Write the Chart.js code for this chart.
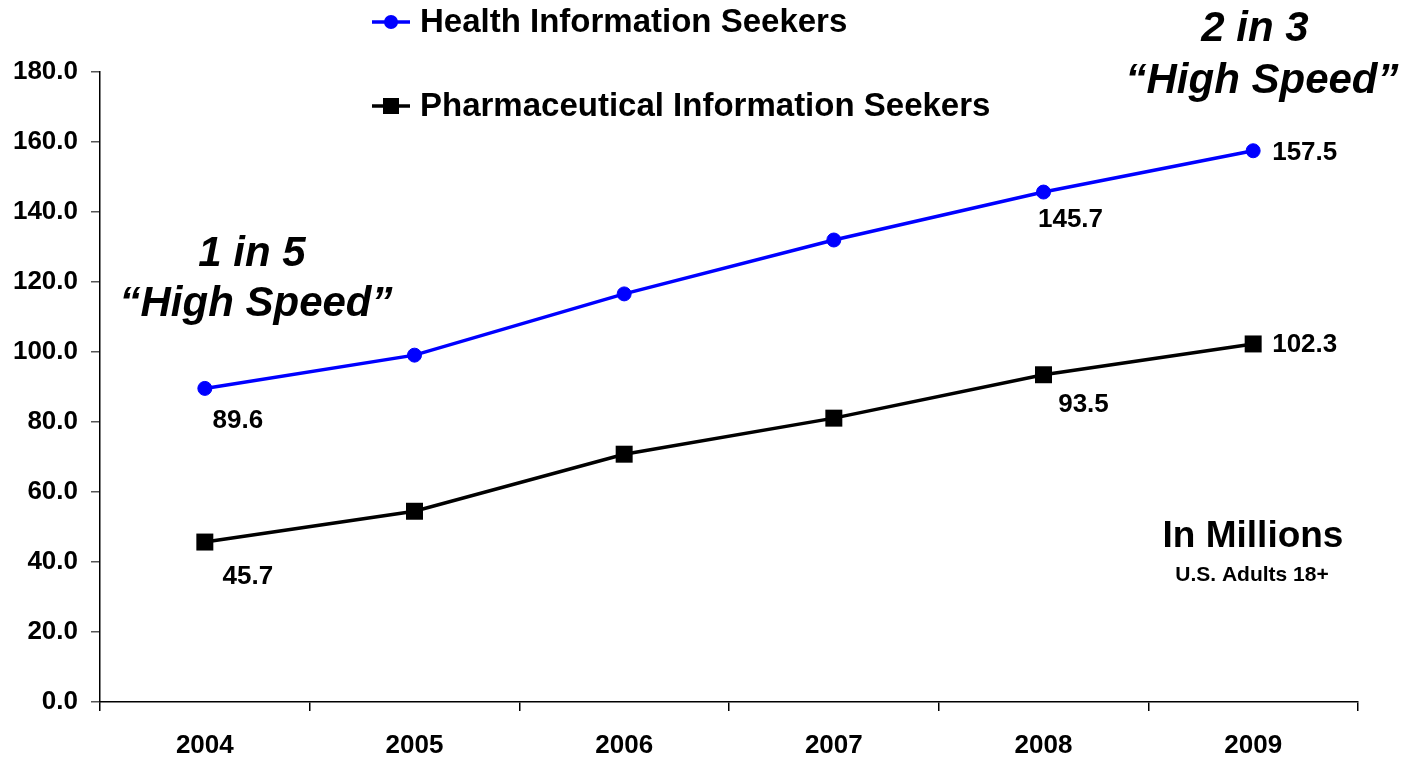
<!DOCTYPE html>
<html>
<head>
<meta charset="utf-8">
<script src="https://cdn.jsdelivr.net/npm/chart.js@4.4.1/dist/chart.umd.min.js"></script>
<style>
  html, body { margin: 0; padding: 0; background: #fff; }
  #wrap { position: relative; width: 1406px; height: 758px; }
</style>
</head>
<body>
<div id="wrap"><canvas id="c" width="1406" height="758"></canvas></div>
<script>
const years = ['2004', '2005', '2006', '2007', '2008', '2009'];
const healthSeekers = [89.6, 99.1, 116.6, 132.0, 145.7, 157.5];
const pharmaSeekers = [45.7, 54.5, 70.8, 81.1, 93.5, 102.3];
const seriesNames = ['Health Information Seekers', 'Pharmaceutical Information Seekers'];
const yTicks = { min: 0, max: 180, step: 20 };
// indices of points that carry a value label
const labelledPoints = [0, 4, 5];

const FONT = '"Liberation Sans", Arial, sans-serif';

// label offsets (px) relative to the point, per dataset, per labelled index
const labelOffsets = [
  { 0: [33, 32, 'center'], 4: [27, 28, 'center'], 5: [19, 2, 'left'] },
  { 0: [43, 35, 'center'], 4: [40, 30, 'center'], 5: [19, 1, 'left'] }
];

const overlayPlugin = {
  id: 'overlay',
  afterDatasetsDraw(chart) {
    const ctx = chart.ctx;
    ctx.save();
    ctx.fillStyle = '#000';
    ctx.font = 'bold 26px ' + FONT;
    ctx.textBaseline = 'middle';
    chart.data.datasets.forEach((ds, di) => {
      const meta = chart.getDatasetMeta(di);
      labelledPoints.forEach(i => {
        const p = meta.data[i];
        const off = labelOffsets[di][i];
        ctx.textAlign = off[2];
        ctx.fillText(ds.data[i].toFixed(1), p.x + off[0], p.y + off[1]);
      });
    });
    ctx.restore();
  },
  afterDraw(chart) {
    const ctx = chart.ctx;
    ctx.save();
    // legend
    const rows = [22, 106];
    chart.data.datasets.forEach((ds, di) => {
      const y = rows[di];
      ctx.strokeStyle = ds.borderColor;
      ctx.lineWidth = 3.5;
      ctx.beginPath();
      ctx.moveTo(372, y);
      ctx.lineTo(410, y);
      ctx.stroke();
      ctx.fillStyle = ds.pointBackgroundColor;
      if (ds.pointStyle === 'circle') {
        ctx.beginPath();
        ctx.arc(391, y, 7, 0, Math.PI * 2);
        ctx.fill();
      } else {
        ctx.fillRect(383, y - 8, 16, 16);
      }
      ctx.fillStyle = '#000';
      ctx.font = 'bold 33px ' + FONT;
      ctx.textAlign = 'left';
      ctx.textBaseline = 'middle';
      ctx.fillText(ds.label, 420, y + 1);
    });
    // annotations
    ctx.fillStyle = '#000';
    ctx.textAlign = 'center';
    ctx.textBaseline = 'middle';
    ctx.font = 'italic bold 42px ' + FONT;
    ctx.fillText('1 in 5', 252, 254);
    ctx.fillText('\u201CHigh Speed\u201D', 256, 304);
    ctx.fillText('2 in 3', 1255, 29);
    ctx.fillText('\u201CHigh Speed\u201D', 1262, 81);
    ctx.font = 'bold 37px ' + FONT;
    ctx.fillText('In Millions', 1253, 537);
    ctx.font = 'bold 21px ' + FONT;
    ctx.fillText('U.S. Adults 18+', 1252, 575);
    ctx.restore();
  }
};

new Chart(document.getElementById('c'), {
  type: 'line',
  data: {
    labels: years,
    datasets: [
      {
        label: seriesNames[0],
        data: healthSeekers,
        borderColor: '#0000ff',
        backgroundColor: '#0000ff',
        pointBackgroundColor: '#0000ff',
        pointBorderColor: '#0000ff',
        pointStyle: 'circle',
        pointRadius: 7,
        pointBorderWidth: 1,
        borderWidth: 3.5,
        tension: 0
      },
      {
        label: seriesNames[1],
        data: pharmaSeekers,
        borderColor: '#000000',
        backgroundColor: '#000000',
        pointBackgroundColor: '#000000',
        pointBorderColor: '#000000',
        pointStyle: 'rect',
        pointRadius: 12,
        pointBorderWidth: 0,
        borderWidth: 3.5,
        tension: 0
      }
    ]
  },
  options: {
    responsive: false,
    animation: false,
    layout: { padding: { left: 0, right: 48, top: 72, bottom: 0 } },
    plugins: {
      legend: { display: false },
      tooltip: { enabled: false },
      title: { display: false }
    },
    scales: {
      x: {
        type: 'category',
        offset: true,
        grid: {
          offset: true,
          drawOnChartArea: false,
          drawTicks: true,
          tickLength: 9,
          color: '#000',
          lineWidth: 1.5
        },
        border: { display: true, color: '#000', width: 1.5 },
        ticks: {
          color: '#000',
          font: { family: FONT, size: 26, weight: 'bold' },
          padding: 19,
          maxRotation: 0
        },
        afterFit(s) { s.height = 56; }
      },
      y: {
        min: yTicks.min,
        max: yTicks.max,
        grid: {
          drawOnChartArea: false,
          drawTicks: true,
          tickLength: 9,
          color: '#555',
          lineWidth: 1.5
        },
        border: { display: true, color: '#000', width: 1.5 },
        ticks: {
          stepSize: yTicks.step,
          color: '#000',
          font: { family: FONT, size: 26, weight: 'bold' },
          padding: 13,
          callback: v => Number(v).toFixed(1)
        },
        afterFit(s) { s.width = 100; }
      }
    }
  },
  plugins: [overlayPlugin]
});
</script>
</body>
</html>
